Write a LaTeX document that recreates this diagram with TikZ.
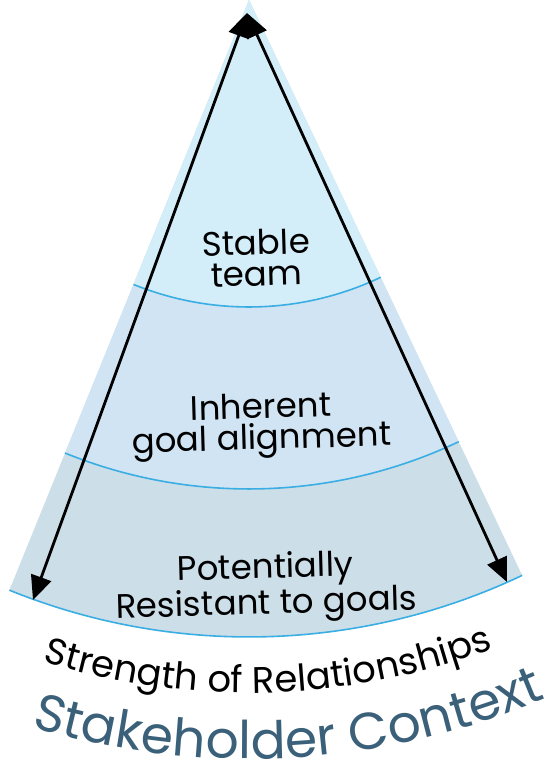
\documentclass[tikz,border=0pt]{standalone}
\usepackage{fontspec}
\newfontfamily\gothic{Poppins}
\usetikzlibrary{arrows.meta,decorations.text}
\definecolor{bandtop}{HTML}{D3EEF9}
\definecolor{bandmid}{HTML}{D0E4F3}
\definecolor{bandlow}{HTML}{CCDEE8}
\definecolor{rim}{HTML}{3AAEE3}
\definecolor{ctx}{HTML}{3B6079}
\tikzset{
  rimline/.style={draw=rim, line width=1.6pt},
  label/.style={font=\gothic\fontsize{34}{31}\selectfont, align=center, text=black, inner sep=0pt},
  reach/.style={draw=black, line width=2.8pt, {Triangle[length=24pt,width=21pt]}-{Triangle[length=24pt,width=21pt]}},
}
\begin{document}
\begin{tikzpicture}[x=1pt,y=1pt]
\useasboundingbox (-249,-764) rectangle (300,0);
\begin{scope}[rotate=1.65]
  % three concentric bands of the fan
  \fill[bandlow] (0,0) -- (246.25:637) arc[start angle=246.25, end angle=293.75, radius=637] -- cycle;
  \fill[bandmid] (0,0) -- (246.25:489) arc[start angle=246.25, end angle=293.75, radius=489] -- cycle;
  \fill[bandtop] (0,0) -- (246.25:307) arc[start angle=246.25, end angle=293.75, radius=307] -- cycle;
  \draw[rimline] (246.25:307) arc[start angle=246.25, end angle=293.75, radius=307];
  \draw[rimline] (246.25:489) arc[start angle=246.25, end angle=293.75, radius=489];
  \draw[rimline] (246.25:637) arc[start angle=246.25, end angle=293.75, radius=637];
  % band labels
  \node[label, rotate=1.65] (stable) at (270:258) {Stable\\team};
  \node[label, rotate=1.65] (inherent) at (270:426) {Inherent\\goal alignment};
  \node[label, rotate=1.65] (resist) at (270:588) {Potentially\\Resistant to goals};
  % curved captions under the fan
  \path[decorate, decoration={text along path, text align=center,
      text={|\gothic\fontsize{37}{37}\selectfont|Strength of Relationships}}]
    (230:693) arc[start angle=230, end angle=310, radius=693];
  \path[decorate, decoration={text along path, text align=center,
      text={|\gothic\fontsize{52}{52}\selectfont\color{ctx}|Stakeholder Context}}]
    (231.5:759) arc[start angle=231.5, end angle=311.5, radius=759];
\end{scope}
% arrows from the apex to both ends of the rim
\coordinate (apex) at (-2,-13);
\coordinate (leftend) at (-216,-600);
\coordinate (rightend) at (258,-582);
\draw[reach] (leftend) -- (apex);
\draw[reach] (apex) -- (rightend);
\end{tikzpicture}
\end{document}
